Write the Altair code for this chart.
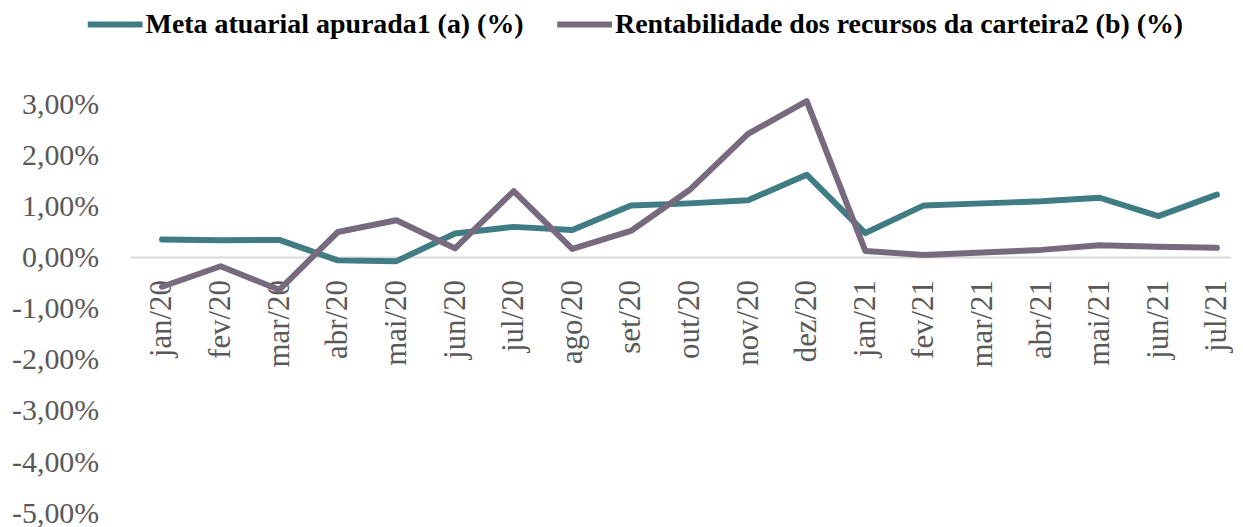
import altair as alt
import pandas as pd

months = ["jan/20", "fev/20", "mar/20", "abr/20", "mai/20", "jun/20", "jul/20",
          "ago/20", "set/20", "out/20", "nov/20", "dez/20", "jan/21", "fev/21",
          "mar/21", "abr/21", "mai/21", "jun/21", "jul/21"]
meta = [0.355, 0.34, 0.345, -0.055, -0.07, 0.47, 0.60, 0.54, 1.02, 1.06, 1.12,
        1.62, 0.48, 1.02, 1.06, 1.10, 1.17, 0.81, 1.23]
rent = [-0.57, -0.17, -0.63, 0.50, 0.73, 0.18, 1.30, 0.17, 0.52, 1.32, 2.42,
        3.06, 0.13, 0.05, 0.10, 0.15, 0.24, 0.21, 0.19]
series_names = ["Meta atuarial apurada1 (a) (%)",
                "Rentabilidade dos recursos da carteira2 (b) (%)"]
series_colors = ["#407C84", "#786A7E"]
y_ticks = [-5, -4, -3, -2, -1, 0, 1, 2, 3]

rows = []
for k, vals in enumerate([meta, rent]):
    for i, v in enumerate(vals):
        rows.append({"idx": i, "month": months[i], "serie": series_names[k],
                     "ord": k, "value": v})
df = pd.DataFrame(rows)

label_list = "[" + ",".join("'" + m + "'" for m in months) + "]"

W, H = 1104, 436
zero_from_top = H * 3.5 / 8.5

x_enc = alt.X(
    "idx:Q",
    scale=alt.Scale(domain=[-0.536, 18.24], nice=False, zero=False),
    axis=alt.Axis(
        values=list(range(len(months))),
        labelExpr=label_list + "[datum.value]",
        labelAngle=270, labelAlign="right", labelBaseline="middle",
        labelPadding=22, offset=-(H - zero_from_top),
        labelFont="Liberation Serif", labelFontSize=31, labelColor="#595959",
        labelFlush=False, labelOverlap=False,
        domain=False, ticks=False, grid=False, title=None,
    ),
)
y_scale = alt.Scale(domain=[-5, 3.5], nice=False, zero=False)
y_enc = alt.Y(
    "value:Q", scale=y_scale,
    axis=alt.Axis(
        values=y_ticks,
        labelExpr="(datum.value < 0 ? '-' : '') + replace(format(abs(datum.value), '.2f'), '.', ',') + '%'",
        labelFont="Liberation Serif", labelFontSize=30, labelColor="#595959",
        labelPadding=32, domain=False, ticks=False, grid=False, title=None,
    ),
)

zero_rule = alt.Chart(pd.DataFrame({"value": [0]})).mark_rule(
    color="#D9D9D9", strokeWidth=2
).encode(y=alt.Y("value:Q", scale=y_scale))

lines = alt.Chart(df).mark_line(
    strokeWidth=6, strokeCap="round", strokeJoin="round"
).encode(
    x=x_enc,
    y=y_enc,
    color=alt.Color(
        "serie:N",
        scale=alt.Scale(domain=series_names, range=series_colors),
        legend=alt.Legend(
            orient="none", legendX=-46, legendY=-85, direction="horizontal",
            title=None, symbolType="stroke", symbolStrokeWidth=6,
            symbolSize=3025, labelFont="Liberation Serif",
            labelFontWeight="bold", labelFontSize=28, labelColor="black",
            labelLimit=1000, columnPadding=21, labelOffset=0, padding=0,
        ),
    ),
    order=alt.Order("ord:Q"),
    detail="ord:N",
)

chart = alt.layer(zero_rule, lines).properties(
    width=W, height=H,
    autosize=alt.AutoSizeParams(type="none"),
    padding={"left": 123, "top": 70, "right": 4, "bottom": 13},
).configure_view(stroke=None)

chart.save("out.html", embed_options={"renderer": "svg", "actions": False})
